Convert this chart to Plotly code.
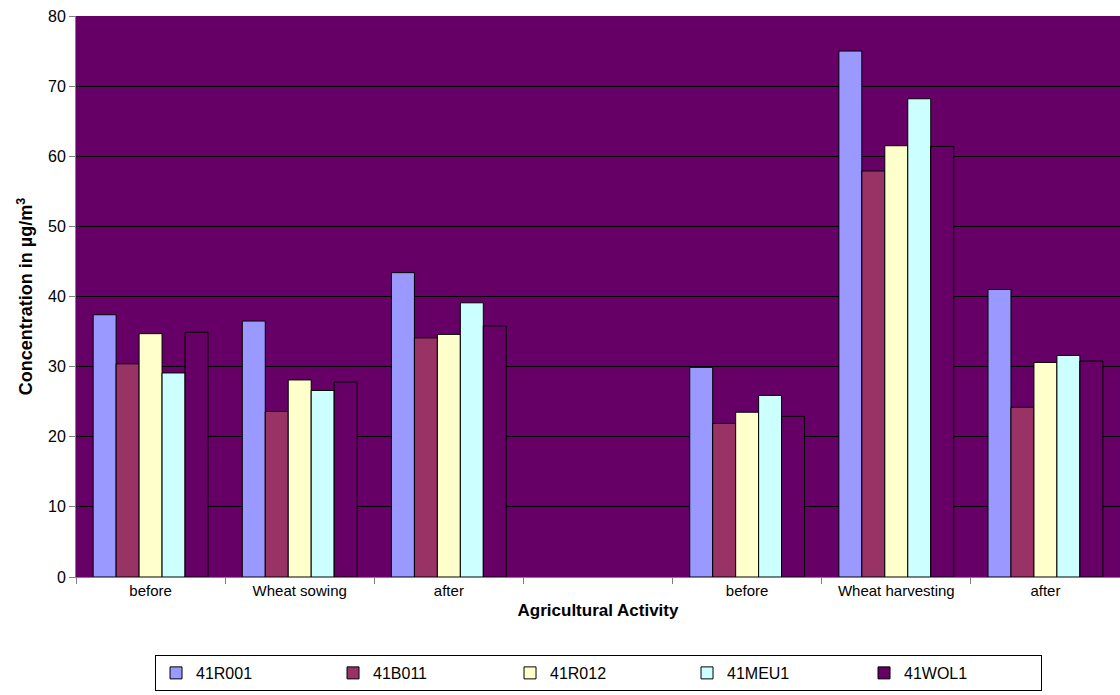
import plotly.graph_objects as go

# Category slots along the x axis (slot 3 is an empty spacer between the two campaigns)
positions = [0, 1, 2, 4, 5, 6]
slot_labels = ["before", "Wheat sowing", "after", "", "before", "Wheat harvesting", "after"]

# Concentrations in µg/m³ per station
r001 = [37.4, 36.5, 43.4, 29.9, 75.0, 41.0]
b011 = [30.4, 23.6, 34.1, 21.9, 57.9, 24.2]
r012 = [34.7, 28.1, 34.6, 23.5, 61.5, 30.6]
meu1 = [29.1, 26.6, 39.1, 25.9, 68.2, 31.6]
wol1 = [34.9, 27.8, 35.8, 22.9, 61.4, 30.8]

series = [
    ("41R001", r001, "#9999FF"),
    ("41B011", b011, "#993366"),
    ("41R012", r012, "#FFFFCC"),
    ("41MEU1", meu1, "#CCFFFF"),
    ("41WOL1", wol1, "#660066"),
]

font_family = "Liberation Sans, Arial, sans-serif"

fig = go.Figure()
for name, vals, color in series:
    fig.add_trace(go.Bar(
        x=positions, y=vals, name=name,
        marker=dict(color=color, line=dict(color="#000000", width=1)),
    ))

fig.update_layout(
    width=1120, height=695,
    margin=dict(l=76, r=0, t=16, b=118),
    paper_bgcolor="#FFFFFF",
    plot_bgcolor="#660066",
    barmode="group",
    bargap=0.23,
    bargroupgap=0,
    font=dict(family=font_family, size=15, color="#000000"),
    xaxis=dict(
        range=[-0.5, 6.5],
        tickmode="array",
        tickvals=list(range(len(slot_labels))),
        ticktext=slot_labels,
        ticks="",
        showgrid=False,
        zeroline=False,
        showline=True, linecolor="#808080", linewidth=1,
        minor=dict(ticks="outside", tick0=0.5, dtick=1, ticklen=6,
                   tickcolor="#808080", showgrid=False),
        tickfont=dict(size=15),
        title=dict(text="<b>Agricultural Activity</b>", font=dict(size=17), standoff=6),
    ),
    yaxis=dict(
        range=[0, 80],
        dtick=10,
        showgrid=True, gridcolor="#000000", gridwidth=1,
        zeroline=False,
        showline=True, linecolor="#808080", linewidth=1,
        ticks="outside", ticklen=6, tickcolor="#808080",
        tickfont=dict(size=16),
        title=dict(text="<b>Concentration in µg/m<sup>3</sup></b>", font=dict(size=18), standoff=10),
    ),
    legend=dict(
        orientation="h",
        x=0.5005, xanchor="center",
        y=-0.139, yanchor="top",
        bordercolor="#000000", borderwidth=1,
        bgcolor="#FFFFFF",
        font=dict(size=16),
        entrywidth=132, entrywidthmode="pixels",
        itemwidth=30,
        traceorder="normal",
    ),
    showlegend=True,
)

fig.write_html("out.html")
